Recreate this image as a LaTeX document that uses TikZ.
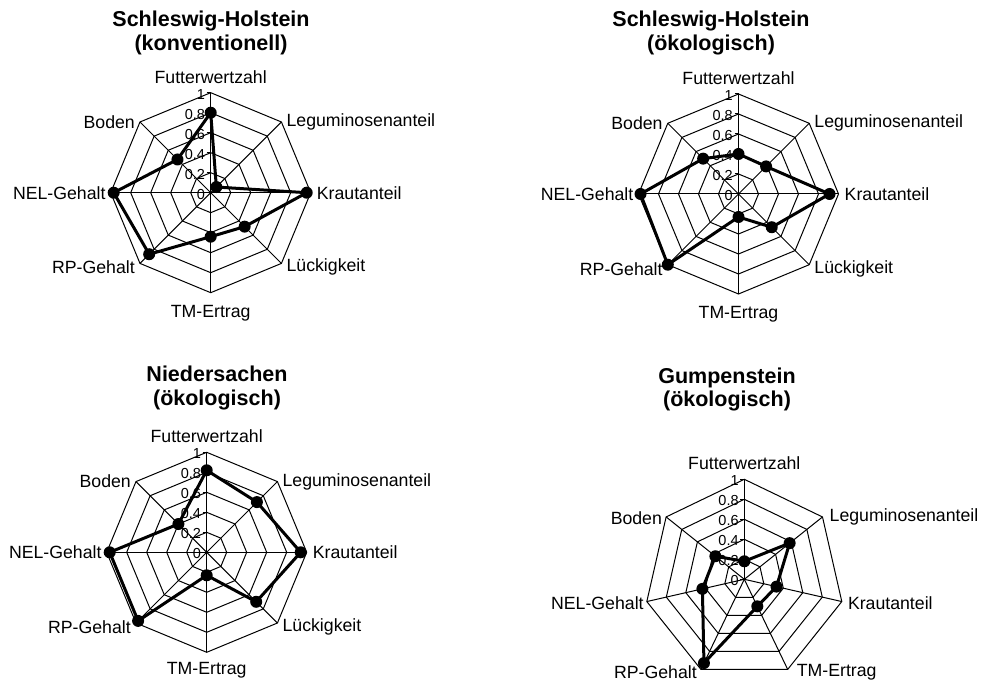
\documentclass[tikz,border=0pt]{standalone}
\usepackage{fontspec}
\setmainfont{Liberation Sans}
\usepackage{tikz}

\begin{document}
\begin{tikzpicture}[x=1pt, y=1pt,
        gridline/.style={line width=1pt},
        dataline/.style={line width=3pt, line join=round},
        datadot/.style={circle, fill=black, inner sep=0pt, minimum size=12pt},
        axislabel/.style={inner sep=0pt, font=\fontsize{17.7}{20}\selectfont},
        ticklabel/.style={inner sep=0pt, anchor=east, font=\fontsize{14.5}{16}\selectfont},
        charttitle/.style={inner sep=0pt, align=center, font=\bfseries\fontsize{21.5}{23.5}\selectfont}]
    \useasboundingbox (0,0) rectangle (981,680);

    % Schleswig-Holstein (konventionell)
    \node[charttitle] (TitleSHk) at (211,647) {Schleswig-Holstein\\(konventionell)};
    \begin{scope}[shift={(210.7,487.3)}]
        \foreach \r in {20,40,...,100}
            \draw[gridline] (90:\r) -- (45:\r) -- (0:\r) -- (-45:\r) -- (-90:\r) -- (-135:\r) -- (180:\r) -- (135:\r) -- cycle;
        \foreach \a in {0,45,...,315}
            \draw[gridline] (0,0) -- (\a:100);
        \foreach \v [count=\i from 0] in {0,0.2,0.4,0.6,0.8,1} {
            \draw[gridline] (-4,20*\i) -- (0,20*\i);
            \node[ticklabel] (TickSHk\i) at (-5.5,20*\i-1.5) {\v};
        }
        \node[axislabel, anchor=south] (FwzSHk) at (90:109) {Futterwertzahl};
        \node[axislabel, anchor=west, xshift=5pt] (LegSHk) at (45:100) {Leguminosenanteil};
        \node[axislabel, anchor=west, xshift=6pt] (KraSHk) at (0:100) {Krautanteil};
        \node[axislabel, anchor=west, xshift=5pt, yshift=-4pt] (LueSHk) at (-45:100) {Lückigkeit};
        \node[axislabel, anchor=north] (TmSHk) at (-90:112) {TM-Ertrag};
        \node[axislabel, anchor=east, xshift=-5pt, yshift=-4pt] (RpSHk) at (-135:100) {RP-Gehalt};
        \node[axislabel, anchor=east, xshift=-5pt] (NelSHk) at (180:100) {NEL-Gehalt};
        \node[axislabel, anchor=east, xshift=-5pt] (BodSHk) at (135:100) {Boden};
        \foreach \a/\v [count=\i] in {90/80,45/8,0/96,-45/48,-90/44,-135/87,180/97,135/47}
            \coordinate (SHk\i) at (\a:\v);
        \draw[dataline] (SHk1) -- (SHk2) -- (SHk3) -- (SHk4) -- (SHk5) -- (SHk6) -- (SHk7) -- (SHk8) -- cycle;
        \foreach \i in {1,...,8}
            \node[datadot] (DotSHk\i) at (SHk\i) {};
    \end{scope}

    % Schleswig-Holstein (oekologisch)
    \node[charttitle] (TitleSHo) at (711,647) {Schleswig-Holstein\\(ökologisch)};
    \begin{scope}[shift={(738.5,486)}]
        \foreach \r in {20,40,...,100}
            \draw[gridline] (90:\r) -- (45:\r) -- (0:\r) -- (-45:\r) -- (-90:\r) -- (-135:\r) -- (180:\r) -- (135:\r) -- cycle;
        \foreach \a in {0,45,...,315}
            \draw[gridline] (0,0) -- (\a:100);
        \foreach \v [count=\i from 0] in {0,0.2,0.4,0.6,0.8,1} {
            \draw[gridline] (-4,20*\i) -- (0,20*\i);
            \node[ticklabel] (TickSHo\i) at (-5.5,20*\i-1.5) {\v};
        }
        \node[axislabel, anchor=south] (FwzSHo) at (90:109) {Futterwertzahl};
        \node[axislabel, anchor=west, xshift=5pt] (LegSHo) at (45:100) {Leguminosenanteil};
        \node[axislabel, anchor=west, xshift=6pt] (KraSHo) at (0:100) {Krautanteil};
        \node[axislabel, anchor=west, xshift=5pt, yshift=-4pt] (LueSHo) at (-45:100) {Lückigkeit};
        \node[axislabel, anchor=north] (TmSHo) at (-90:112) {TM-Ertrag};
        \node[axislabel, anchor=east, xshift=-5pt, yshift=-4pt] (RpSHo) at (-135:100) {RP-Gehalt};
        \node[axislabel, anchor=east, xshift=-5pt] (NelSHo) at (180:100) {NEL-Gehalt};
        \node[axislabel, anchor=east, xshift=-5pt] (BodSHo) at (135:100) {Boden};
        \foreach \a/\v [count=\i] in {90/40,45/39,0/91,-45/47,-90/23,-135/100,180/98,135/50}
            \coordinate (SHo\i) at (\a:\v);
        \draw[dataline] (SHo1) -- (SHo2) -- (SHo3) -- (SHo4) -- (SHo5) -- (SHo6) -- (SHo7) -- (SHo8) -- cycle;
        \foreach \i in {1,...,8}
            \node[datadot] (DotSHo\i) at (SHo\i) {};
    \end{scope}

    % Niedersachen (oekologisch)
    \node[charttitle] (TitleNSo) at (217,292) {Niedersachen\\(ökologisch)};
    \begin{scope}[shift={(206.7,127.7)}]
        \foreach \r in {20,40,...,100}
            \draw[gridline] (90:\r) -- (45:\r) -- (0:\r) -- (-45:\r) -- (-90:\r) -- (-135:\r) -- (180:\r) -- (135:\r) -- cycle;
        \foreach \a in {0,45,...,315}
            \draw[gridline] (0,0) -- (\a:100);
        \foreach \v [count=\i from 0] in {0,0.2,0.4,0.6,0.8,1} {
            \draw[gridline] (-4,20*\i) -- (0,20*\i);
            \node[ticklabel] (TickNSo\i) at (-5.5,20*\i-1.5) {\v};
        }
        \node[axislabel, anchor=south] (FwzNSo) at (90:109) {Futterwertzahl};
        \node[axislabel, anchor=west, xshift=5pt] (LegNSo) at (45:100) {Leguminosenanteil};
        \node[axislabel, anchor=west, xshift=6pt] (KraNSo) at (0:100) {Krautanteil};
        \node[axislabel, anchor=west, xshift=5pt, yshift=-4pt] (LueNSo) at (-45:100) {Lückigkeit};
        \node[axislabel, anchor=north] (TmNSo) at (-90:110) {TM-Ertrag};
        \node[axislabel, anchor=east, xshift=-5pt, yshift=-4pt] (RpNSo) at (-135:100) {RP-Gehalt};
        \node[axislabel, anchor=east, xshift=-5pt] (NelNSo) at (180:100) {NEL-Gehalt};
        \node[axislabel, anchor=east, xshift=-5pt] (BodNSo) at (135:100) {Boden};
        \foreach \a/\v [count=\i] in {90/82,45/71,0/94,-45/70,-90/23,-135/97,180/97,135/40}
            \coordinate (NSo\i) at (\a:\v);
        \draw[dataline] (NSo1) -- (NSo2) -- (NSo3) -- (NSo4) -- (NSo5) -- (NSo6) -- (NSo7) -- (NSo8) -- cycle;
        \foreach \i in {1,...,8}
            \node[datadot] (DotNSo\i) at (NSo\i) {};
    \end{scope}

    % Gumpenstein (oekologisch), seven axes
    \node[charttitle] (TitleGSo) at (727,290.5) {Gumpenstein\\(ökologisch)};
    \begin{scope}[shift={(744.3,100.7)}]
        \foreach \r in {20,40,...,100}
            \draw[gridline] (90:\r) \foreach \k in {1,...,6} { -- ({90-\k*360/7}:\r) } -- cycle;
        \foreach \k in {0,...,6}
            \draw[gridline] (0,0) -- ({90-\k*360/7}:100);
        \foreach \v [count=\i from 0] in {0,0.2,0.4,0.6,0.8,1} {
            \draw[gridline] (-4,20*\i) -- (0,20*\i);
            \node[ticklabel] (TickGSo\i) at (-5.5,20*\i-1.5) {\v};
        }
        \node[axislabel, anchor=south] (FwzGSo) at (90:109) {Futterwertzahl};
        \node[axislabel, anchor=west, xshift=7pt] (LegGSo) at ({90-360/7}:100) {Leguminosenanteil};
        \node[axislabel, anchor=west, xshift=6pt, yshift=-1.5pt] (KraGSo) at ({90-2*360/7}:100) {Krautanteil};
        \node[axislabel, anchor=west, xshift=9pt, yshift=-2.5pt] (TmGSo) at ({90-3*360/7}:100) {TM-Ertrag};
        \node[axislabel, anchor=east, xshift=-4pt, yshift=-2.5pt] (RpGSo) at ({90-4*360/7}:100) {RP-Gehalt};
        \node[axislabel, anchor=east, xshift=-3pt, yshift=-1.5pt] (NelGSo) at ({90-5*360/7}:100) {NEL-Gehalt};
        \node[axislabel, anchor=east, xshift=-4pt, yshift=-1pt] (BodGSo) at ({90-6*360/7}:100) {Boden};
        \foreach \v [count=\i from 0] in {18,58,33,30,93,43,37}
            \coordinate (GSo\i) at ({90-\i*360/7}:\v);
        \draw[dataline] (GSo0) -- (GSo1) -- (GSo2) -- (GSo3) -- (GSo4) -- (GSo5) -- (GSo6) -- cycle;
        \foreach \i in {0,...,6}
            \node[datadot] (DotGSo\i) at (GSo\i) {};
    \end{scope}
\end{tikzpicture}
\end{document}
